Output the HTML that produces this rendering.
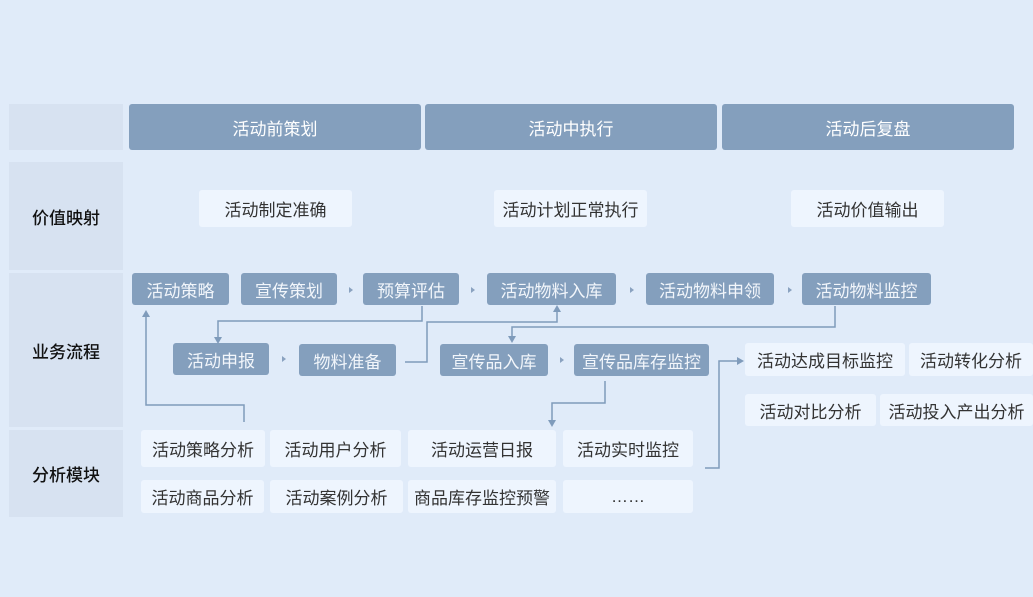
<!DOCTYPE html>
<html><head><meta charset="utf-8"><style>
*{margin:0;padding:0;box-sizing:border-box}
body{width:1033px;height:597px;background:#e0ebf9;position:relative;overflow:hidden;font-family:"Liberation Sans","Noto Sans CJK SC",sans-serif}
.b{position:absolute;display:flex;align-items:center;justify-content:center;border-radius:3px;font-size:17px;white-space:nowrap}
.l{background:#d7e2f1;color:#111;border-radius:0;font-weight:500}
.h{background:#849fbd;color:#fff}
.v{background:#eef5fe;color:#333}
.p{background:#849fbd;color:#f2f6fb}
.a{background:#eef5fe;color:#333}
svg{position:absolute;left:0;top:0}
</style></head><body>
<div class="b l" style="left:9px;top:104px;width:114px;height:46px"></div>
<div class="b l" style="left:9px;top:162px;width:114px;height:108px">价值映射</div>
<div class="b l" style="left:9px;top:273px;width:114px;height:154px">业务流程</div>
<div class="b l" style="left:9px;top:430px;width:114px;height:87px">分析模块</div>

<div class="b h" style="left:129px;top:104px;width:292px;height:46px">活动前策划</div>
<div class="b h" style="left:425px;top:104px;width:292px;height:46px">活动中执行</div>
<div class="b h" style="left:722px;top:104px;width:292px;height:46px">活动后复盘</div>

<div class="b v" style="left:199px;top:190px;width:153px;height:37px">活动制定准确</div>
<div class="b v" style="left:494px;top:190px;width:153px;height:37px">活动计划正常执行</div>
<div class="b v" style="left:791px;top:190px;width:153px;height:37px">活动价值输出</div>

<div class="b p" style="left:132px;top:273px;width:97px;height:32px">活动策略</div>
<div class="b p" style="left:241px;top:273px;width:96px;height:32px">宣传策划</div>
<div class="b p" style="left:363px;top:273px;width:96px;height:32px">预算评估</div>
<div class="b p" style="left:487px;top:273px;width:129px;height:32px">活动物料入库</div>
<div class="b p" style="left:646px;top:273px;width:128px;height:32px">活动物料申领</div>
<div class="b p" style="left:802px;top:273px;width:129px;height:32px">活动物料监控</div>

<div class="b p" style="left:173px;top:343px;width:96px;height:32px">活动申报</div>
<div class="b p" style="left:299px;top:344px;width:97px;height:32px">物料准备</div>
<div class="b p" style="left:440px;top:344px;width:108px;height:32px">宣传品入库</div>
<div class="b p" style="left:574px;top:344px;width:135px;height:32px">宣传品库存监控</div>

<div class="b a" style="left:745px;top:343px;width:160px;height:33px">活动达成目标监控</div>
<div class="b a" style="left:909px;top:343px;width:124px;height:33px">活动转化分析</div>
<div class="b a" style="left:745px;top:394px;width:131px;height:32px">活动对比分析</div>
<div class="b a" style="left:880px;top:394px;width:153px;height:32px">活动投入产出分析</div>

<div class="b a" style="left:141px;top:430px;width:124px;height:37px">活动策略分析</div>
<div class="b a" style="left:270px;top:430px;width:131px;height:37px">活动用户分析</div>
<div class="b a" style="left:408px;top:430px;width:148px;height:37px">活动运营日报</div>
<div class="b a" style="left:563px;top:430px;width:130px;height:37px">活动实时监控</div>
<div class="b a" style="left:141px;top:480px;width:123px;height:33px">活动商品分析</div>
<div class="b a" style="left:270px;top:480px;width:133px;height:33px">活动案例分析</div>
<div class="b a" style="left:408px;top:480px;width:148px;height:33px">商品库存监控预警</div>
<div class="b a" style="left:563px;top:480px;width:130px;height:33px">……</div>

<svg width="1033" height="597">
<g fill="#8aa2c0">
<polygon points="349,287 353,290 349,293"/>
<polygon points="471,287 475,290 471,293"/>
<polygon points="630,287 634,290 630,293"/>
<polygon points="788,287 792,290 788,293"/>
<polygon points="282,356 286,359 282,362"/>
<polygon points="560,357 564,360 560,363"/>
</g>
<g fill="none" stroke="#7f9bbb" stroke-width="1.5">
<polyline points="422,306 422,321 218,321 218,338"/>
<polyline points="405,362 427,362 427,322 557,322 557,311"/>
<polyline points="835,306 835,327 512,327 512,337"/>
<polyline points="605,381 605,403 552,403 552,421"/>
<polyline points="705,468 719,468 719,361 738,361"/>
<polyline points="244,422 244,405 146,405 146,316"/>
</g>
<g fill="#7f9bbb">
<polygon points="214,337 222,337 218,344"/>
<polygon points="553,312 561,312 557,305"/>
<polygon points="508,336 516,336 512,343"/>
<polygon points="548,420 556,420 552,427"/>
<polygon points="737,357 737,365 744,361"/>
<polygon points="142,317 150,317 146,310"/>
</g>
</svg>
</body></html>
